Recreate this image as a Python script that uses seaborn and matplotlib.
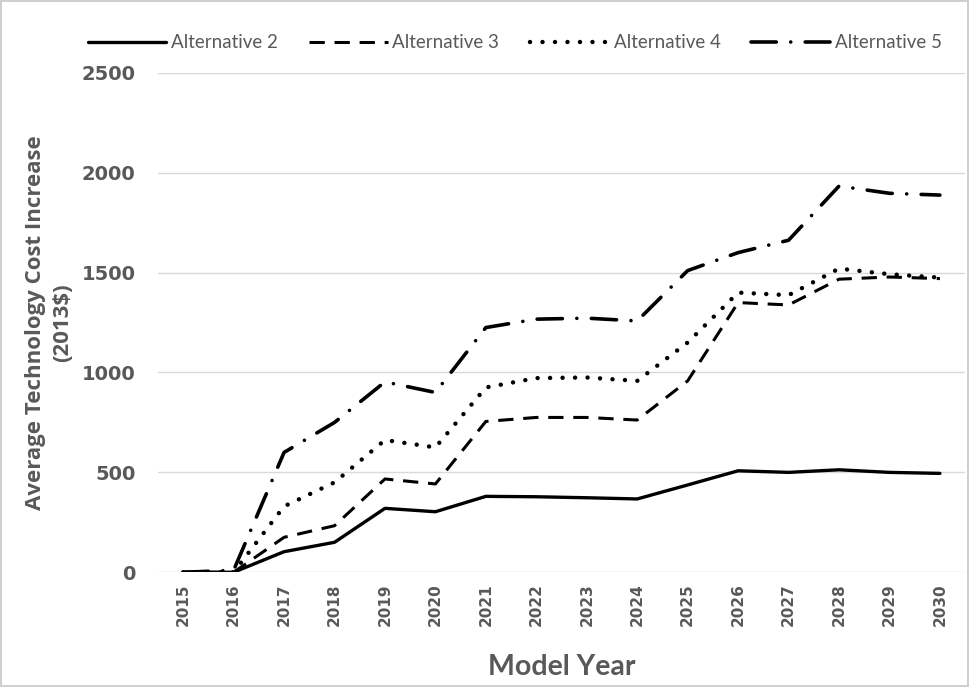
import matplotlib
matplotlib.use("Agg")
import matplotlib.pyplot as plt
import pandas as pd
import seaborn as sns

# data
years = [2015, 2016, 2017, 2018, 2019, 2020, 2021, 2022,
         2023, 2024, 2025, 2026, 2027, 2028, 2029, 2030]
alt2 = [0, 0, 103, 150, 320, 303, 380, 378, 373, 367, 437, 508, 500, 513, 500, 495]
alt3 = [0, 0, 175, 233, 467, 442, 755, 775, 775, 762, 958, 1350, 1338, 1467, 1478, 1470]
alt4 = [0, 0, 330, 450, 662, 625, 925, 972, 975, 958, 1150, 1400, 1387, 1520, 1492, 1475]
alt5 = [0, 10, 600, 750, 953, 900, 1225, 1267, 1272, 1258, 1510, 1600, 1662, 1933, 1897, 1888]
series_names = ["Alternative 2", "Alternative 3", "Alternative 4", "Alternative 5"]
y_ticks = [0, 500, 1000, 1500, 2000, 2500]

GRAY = "#595959"

sns.set_theme(style="white")
plt.rcParams["font.family"] = ["DejaVu Sans"]

df = pd.DataFrame({"year": [str(y) for y in years]})
for name, vals in zip(series_names, [alt2, alt3, alt4, alt5]):
    df[name] = vals

styles = {
    "Alternative 2": dict(linestyle="-", linewidth=2.4),
    "Alternative 3": dict(linestyle=(0, (5, 3.2)), linewidth=2.2),
    "Alternative 4": dict(linestyle=(0, (0.01, 2.8)), linewidth=3.2, dash_capstyle="round"),
    "Alternative 5": dict(linestyle=(0, (7, 4, 0.01, 4)), linewidth=2.6, dash_capstyle="round"),
}

fig = plt.figure(figsize=(9.69, 6.87), dpi=100)
fig.patch.set_edgecolor("#cfcfcf")
fig.patch.set_linewidth(1.5)
ax = fig.add_axes([0.163, 0.167, 0.833, 0.727])

for name in series_names:
    sns.lineplot(data=df, x="year", y=name, ax=ax, color="black",
                 label=name, **styles[name])

ax.set_ylim(0, 2500)
ax.set_yticks(y_ticks)
ax.set_xlim(-0.5, len(years) - 0.5)
ax.grid(axis="y", color="#d9d9d9", linewidth=1)
ax.set_axisbelow(True)
for s in ax.spines.values():
    s.set_visible(False)

ax.tick_params(axis="y", labelsize=14, colors=GRAY, pad=16, length=0)
ax.tick_params(axis="x", labelsize=11, colors=GRAY, pad=8, length=0, rotation=90)
for lbl in ax.get_yticklabels() + ax.get_xticklabels():
    lbl.set_fontweight("bold")

ax.set_xlabel("Model Year", fontsize=20.5, fontweight="bold", color=GRAY,
              family=["Lato", "DejaVu Sans"], labelpad=20)
ax.set_ylabel("Average Technology Cost Increase\n(2013$)", fontsize=16,
              fontweight="bold", color=GRAY, linespacing=1.4, labelpad=6,
              family=["Open Sans", "DejaVu Sans"])

ax.legend(loc="center", bbox_to_anchor=(0.442, 1.06), ncol=4, frameon=False,
          handlelength=4.2, handletextpad=0.25, columnspacing=1.65,
          prop={"family": ["Lato", "DejaVu Sans"], "size": 13.5},
          labelcolor=GRAY)

fig.savefig("out.png", dpi=100)
